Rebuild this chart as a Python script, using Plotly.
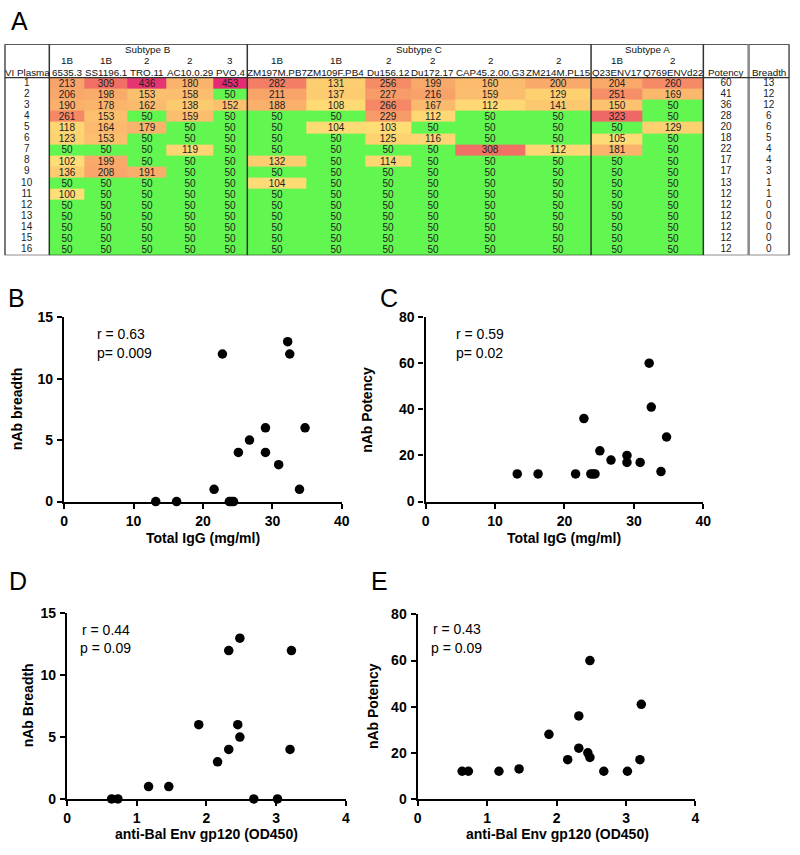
import plotly.graph_objects as go

# ---------------- data ----------------
plasma_ids = list(range(1, 17))
subtypes = ["Subtype B", "Subtype C", "Subtype A"]
subtype_span = [(0, 5), (5, 11), (11, 13)]  # column index ranges
clades = ["1B", "1B", "2", "2", "3", "1B", "1B", "2", "2", "2", "2", "1B", "2"]
viruses = ["6535.3", "SS1196.1", "TRO.11", "AC10.0.29", "PVO.4",
           "ZM197M.PB7", "ZM109F.PB4", "Du156.12", "Du172.17", "CAP45.2.00.G3", "ZM214M.PL15",
           "Q23ENV17", "Q769ENVd22"]
titers = [
    [213, 309, 436, 180, 453, 282, 131, 256, 199, 160, 200, 204, 260],
    [206, 198, 153, 158, 50, 211, 137, 227, 216, 159, 129, 251, 169],
    [190, 178, 162, 138, 152, 188, 108, 266, 167, 112, 141, 150, 50],
    [261, 153, 50, 159, 50, 50, 50, 229, 112, 50, 50, 323, 50],
    [118, 164, 179, 50, 50, 50, 104, 103, 50, 50, 50, 50, 129],
    [123, 153, 50, 50, 50, 50, 50, 125, 116, 50, 50, 105, 50],
    [50, 50, 50, 119, 50, 50, 50, 50, 50, 308, 112, 181, 50],
    [102, 199, 50, 50, 50, 132, 50, 114, 50, 50, 50, 50, 50],
    [136, 208, 191, 50, 50, 50, 50, 50, 50, 50, 50, 50, 50],
    [50, 50, 50, 50, 50, 104, 50, 50, 50, 50, 50, 50, 50],
    [100, 50, 50, 50, 50, 50, 50, 50, 50, 50, 50, 50, 50],
    [50, 50, 50, 50, 50, 50, 50, 50, 50, 50, 50, 50, 50],
    [50, 50, 50, 50, 50, 50, 50, 50, 50, 50, 50, 50, 50],
    [50, 50, 50, 50, 50, 50, 50, 50, 50, 50, 50, 50, 50],
    [50, 50, 50, 50, 50, 50, 50, 50, 50, 50, 50, 50, 50],
    [50, 50, 50, 50, 50, 50, 50, 50, 50, 50, 50, 50, 50],
]
potency = [60, 41, 36, 28, 20, 18, 22, 17, 17, 13, 12, 12, 12, 12, 12, 12]
breadth = [13, 12, 12, 6, 6, 5, 4, 4, 3, 1, 1, 0, 0, 0, 0, 0]
total_igg = [32.2, 32.5, 22.8, 34.7, 29.0, 26.7, 25.1, 29.0, 30.9, 33.9, 21.6, 13.2, 16.2, 23.8, 24.1, 24.4]
env_gp120 = [2.48, 3.22, 2.32, 1.89, 2.45, 2.48, 2.32, 3.20, 2.16, 1.46, 1.17, 0.64, 0.73, 2.68, 3.02, None]

igg_ticks = [0, 10, 20, 30, 40]
env_ticks = [0, 1, 2, 3, 4]
breadth_ticks = [0, 5, 10, 15]
potency_ticks = [0, 20, 40, 60, 80]

stats = {
    "B": ["r = 0.63", "p= 0.009"],
    "C": ["r = 0.59", "p= 0.02"],
    "D": ["r = 0.44", "p = 0.09"],
    "E": ["r = 0.43", "p = 0.09"],
}

# ---------------- layout helpers ----------------
W, H = 800, 855
FONT = "Liberation Sans, Arial, Helvetica, sans-serif"


def xd(p0, p1):
    return [p0 / W, p1 / W]


def yd(p0, p1):  # p0 top px, p1 bottom px
    return [1 - p1 / H, 1 - p0 / H]


def px(x):
    return x / W


def py(y):
    return 1 - y / H


# table column edges (pixels)
col_edges = [46, 82, 125, 165, 212, 247, 307, 367, 413, 458, 529, 596, 648, 710]
pot_col = (710, 756)
br_col = (756, 797)
col_centers = [(col_edges[i] + col_edges[i + 1]) / 2 for i in range(len(viruses))]

GREEN = "rgb(98,246,80)"
zmin, zmax = 50, 460


def nz(v):
    return (v - zmin) / (zmax - zmin)


colorscale = [
    [0.0, GREEN], [nz(99), GREEN],
    [nz(100), "rgb(254,222,118)"],
    [nz(130), "rgb(253,207,112)"],
    [nz(160), "rgb(251,188,110)"],
    [nz(200), "rgb(249,170,106)"],
    [nz(260), "rgb(245,138,102)"],
    [nz(320), "rgb(240,105,102)"],
    [1.0, "rgb(228,40,115)"],
]

fig = go.Figure()

# ---------- Panel A table ----------
fig.add_trace(go.Heatmap(
    x=col_edges, y=list(range(0, 17)), z=titers,
    text=[[str(v) for v in row] for row in titers],
    texttemplate="%{text}", textfont=dict(size=10, color="#222", family=FONT),
    colorscale=colorscale, zmin=zmin, zmax=zmax, showscale=False,
    hoverinfo="skip", xaxis="x", yaxis="y",
))
row_y = [i + 0.5 for i in range(len(plasma_ids))]
for xc, vals in [(23, plasma_ids), ((pot_col[0] + pot_col[1]) / 2, potency),
                 ((br_col[0] + br_col[1]) / 2, breadth)]:
    fig.add_trace(go.Scatter(
        x=[xc] * len(vals), y=row_y, text=[str(v) for v in vals], mode="text",
        textfont=dict(size=10, color="#222", family=FONT), hoverinfo="skip",
        showlegend=False, xaxis="x", yaxis="y"))

ann = []
hdr_font = dict(size=9.8, color="#111", family=FONT)


def tann(x, y, text, font):
    return dict(x=x, y=y, xref="x", yref="y", text=text, showarrow=False, font=font,
                xanchor="center", yanchor="middle")


for name, (a, b) in zip(subtypes, subtype_span):
    ann.append(tann((col_edges[a] + col_edges[b]) / 2, -2.5, name, hdr_font))
for i, c in enumerate(col_centers):
    ann.append(tann(c, -1.5, clades[i], hdr_font))
    ann.append(tann(c, -0.5, viruses[i], hdr_font))
ann.append(tann(23.5, -0.5, "VI Plasma", hdr_font))
ann.append(tann((pot_col[0] + pot_col[1]) / 2, -0.5, "Potency", hdr_font))
ann.append(tann((br_col[0] + br_col[1]) / 2, -0.5, "Breadth", hdr_font))

shapes = []
shapes.append(dict(type="rect", xref="x", yref="y", x0=1, x1=797, y0=-3, y1=16,
                   line=dict(color="#222", width=1.2)))
for xv in [46, 247, 596, 710]:
    shapes.append(dict(type="line", xref="x", yref="y", x0=xv, x1=xv, y0=-3, y1=16,
                       line=dict(color="#333", width=1.5)))
shapes.append(dict(type="line", xref="x", yref="y", x0=756, x1=756, y0=-3, y1=16,
                   line=dict(color="#888", width=2.5)))
shapes.append(dict(type="line", xref="x", yref="y", x0=1, x1=797, y0=0, y1=0,
                   line=dict(color="#333", width=1.2)))

# ---------- scatter panels ----------
panels = [
    ("B", "x2", "y2", total_igg, breadth, (61, 343), (315, 503), [0, 40], igg_ticks, [0, 15], breadth_ticks),
    ("C", "x3", "y3", total_igg, potency, (428, 710), (315, 503), [0, 40], igg_ticks, [0, 80], potency_ticks),
    ("D", "x4", "y4", env_gp120, breadth, (64, 347), (617, 806), [0, 4], env_ticks, [0, 15], breadth_ticks),
    ("E", "x5", "y5", env_gp120, potency, (420, 702), (618, 806), [0, 4], env_ticks, [0, 80], potency_ticks),
]
axis_common = dict(showline=True, linewidth=2.4, linecolor="black", ticks="outside", ticklen=5,
                   tickwidth=2.4, tickcolor="black", showgrid=False, zeroline=False,
                   tickfont=dict(size=14, family=FONT, color="black", weight="bold"))
layout_axes = {}
for key, xa, ya, xv, yv, (x0, x1), (y0, y1), xr, xt, yr, yt in panels:
    pts = [(a, b) for a, b in zip(xv, yv) if a is not None]
    fig.add_trace(go.Scatter(
        x=[p[0] for p in pts], y=[p[1] for p in pts], mode="markers",
        marker=dict(size=9.5, color="black"), cliponaxis=False, showlegend=False,
        xaxis=xa, yaxis=ya))
    layout_axes["xaxis" + xa[1:]] = dict(domain=xd(x0, x1), range=xr, tickvals=xt,
                                         ticktext=["<b>%s</b>" % v for v in xt], anchor=ya,
                                         **axis_common)
    layout_axes["yaxis" + ya[1:]] = dict(domain=yd(y0, y1), range=yr, tickvals=yt,
                                         ticktext=["<b>%s</b>" % v for v in yt], anchor=xa,
                                         ticklabelstandoff=1, **axis_common)

title_font = dict(size=14, family=FONT, color="black", weight="bold")
stat_font = dict(size=14, family=FONT, color="black")
letter_font = dict(size=25, family=FONT, color="black")


def pann(x, y, text, font, xanchor="center", angle=0):
    return dict(x=px(x), y=py(y), xref="paper", yref="paper", text=text, showarrow=False,
                font=font, xanchor=xanchor, yanchor="middle", textangle=angle)


ann += [
    pann(202, 540, "<b>Total IgG (mg/ml)</b>", title_font),
    pann(569, 540, "<b>Total IgG (mg/ml)</b>", title_font),
    pann(206, 842, "<b>anti-Bal Env gp120 (OD450)</b>", title_font),
    pann(562, 842, "<b>anti-Bal Env gp120 (OD450)</b>", title_font),
    pann(14, 409, "<b>nAb breadth</b>", title_font, angle=-90),
    pann(369, 409, "<b>nAb Potency</b>", title_font, angle=-90),
    pann(24, 711, "<b>nAb Breadth</b>", title_font, angle=-90),
    pann(374, 711, "<b>nAb Potency</b>", title_font, angle=-90),
]
stat_pos = {"B": [(92, 332), (92, 352)], "C": [(457, 332), (457, 352)],
            "D": [(77, 634), (75, 652)], "E": [(433, 633), (431, 652)]}
for k, lines in stats.items():
    for (sx, sy), t in zip(stat_pos[k], lines):
        ann.append(pann(sx, sy, t, stat_font, xanchor="left"))
for t, (lx, ly) in {"A": (16, 13), "B": (13, 296), "C": (391, 296), "D": (14, 584), "E": (381, 584)}.items():
    ann.append(pann(lx, ly, t, letter_font))

fig.update_layout(
    width=W, height=H, margin=dict(l=0, r=0, t=0, b=0),
    paper_bgcolor="white", plot_bgcolor="white", showlegend=False,
    font=dict(family=FONT),
    xaxis=dict(domain=[0, 1], range=[0, 800], visible=False, fixedrange=True),
    yaxis=dict(domain=yd(37, 252), range=[16, -3], visible=False, fixedrange=True),
    annotations=ann, shapes=shapes,
    **layout_axes,
)

fig.write_html("out.html", config={"displayModeBar": False},
               post_script="document.body.style.margin='0';document.body.style.overflow='hidden';")
